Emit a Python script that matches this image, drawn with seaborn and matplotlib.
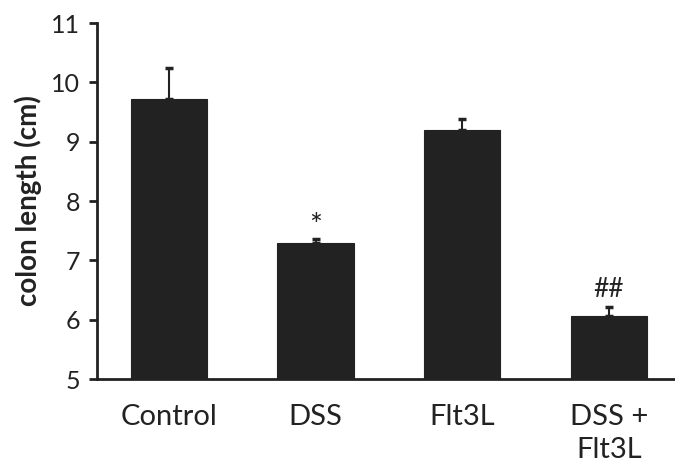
import matplotlib
matplotlib.use("Agg")
import matplotlib.pyplot as plt
import seaborn as sns
import pandas as pd
import numpy as np

groups = ["Control", "DSS", "Flt3L", "DSS +\nFlt3L"]
means = [9.72, 7.29, 9.20, 6.06]
errors = [0.53, 0.07, 0.19, 0.16]
marks = ["", "*", "", "##"]
yticks = [5, 6, 7, 8, 9, 10, 11]

sns.set_style("ticks")
plt.rcParams["font.family"] = ["Lato", "DejaVu Sans"]

df = pd.DataFrame({"group": groups, "length": means})

fig = plt.figure(figsize=(6.75, 4.67), dpi=100)
ax = fig.add_axes([0.1437, 0.1884, 0.8563, 0.7623])

sns.barplot(data=df, x="group", y="length", color="#222222",
            width=0.52, errorbar=None, ax=ax, edgecolor="#222222",
            linewidth=0.8, saturation=1)

xs = [p.get_x() + p.get_width() / 2 for p in ax.patches]
ax.errorbar(xs, means, yerr=[np.zeros(len(errors)), errors], fmt="none",
            ecolor="#222222", elinewidth=1.5, capsize=3, capthick=2.5)

for x, m, e, s in zip(xs, means, errors, marks):
    if s == "*":
        ax.text(x, m + e - 0.02, s, ha="center", va="bottom",
                fontsize=22, color="#222222")
    elif s:
        ax.text(x, m + e + 0.07, s, ha="center", va="bottom",
                fontsize=19, color="#222222")

ax.set_ylim(5, 11)
ax.set_xlim(-0.49, 3.45)
ax.set_yticks(yticks)
ax.set_ylabel("colon length (cm)", fontsize=20, fontweight="bold",
              color="#222222", labelpad=7)
ax.set_xlabel("")

for side in ["top", "right"]:
    ax.spines[side].set_visible(False)
for side in ["left", "bottom"]:
    ax.spines[side].set_linewidth(2)
    ax.spines[side].set_color("#222222")

ax.tick_params(axis="y", length=6, width=2, color="#222222",
               labelsize=18, labelcolor="#222222", pad=6)
ax.tick_params(axis="x", length=0, labelsize=21, labelcolor="#222222", pad=18)
for lbl in ax.get_xticklabels():
    lbl.set_verticalalignment("top")
    lbl.set_linespacing(1.35)

fig.savefig("out.png", dpi=100)
